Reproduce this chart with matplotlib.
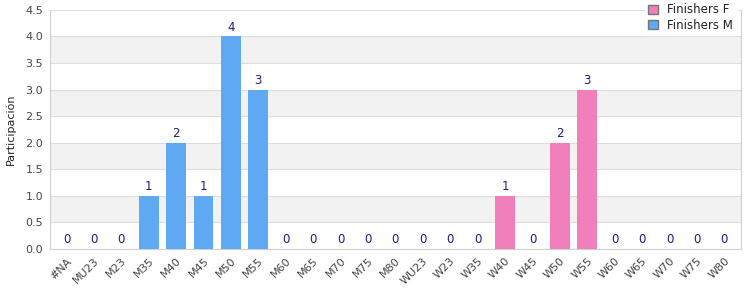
import matplotlib
matplotlib.use("Agg")
import matplotlib.pyplot as plt
from matplotlib.patches import Patch
import numpy as np

categories = ["#NA", "MU23", "M23", "M35", "M40", "M45", "M50", "M55", "M60", "M65",
              "M70", "M75", "M80", "WU23", "W23", "W35", "W40", "W45", "W50", "W55",
              "W60", "W65", "W70", "W75", "W80"]
finishers_f = [0, 0, 0, 0, 0, 0, 0, 0, 0, 0, 0, 0, 0, 0, 0, 0, 1, 0, 2, 3, 0, 0, 0, 0, 0]
finishers_m = [0, 0, 0, 1, 2, 1, 4, 3, 0, 0, 0, 0, 0, 0, 0, 0, 0, 0, 0, 0, 0, 0, 0, 0, 0]
y_ticks = [0.0, 0.5, 1.0, 1.5, 2.0, 2.5, 3.0, 3.5, 4.0, 4.5]

col_f = "#f17fb9"
col_m = "#5fa8f2"
txt = "#444444"

fig = plt.figure(figsize=(7.5, 3.0), dpi=100)
ax = fig.add_axes([0.0667, 0.17, 0.921, 0.797])

x = np.arange(len(categories))
f = np.array(finishers_f)
m = np.array(finishers_m)
ax.bar(x, m, width=0.72, color=col_m, zorder=3)
ax.bar(x, f, width=0.72, bottom=m, color=col_f, zorder=3)

tot = f + m
for xi, t in zip(x, tot):
    ax.text(xi, t + 0.05, str(int(t)), ha="center", va="bottom", fontsize=8.5,
            color="#1a1a8c", zorder=4)

ax.set_ylim(0, 4.5)
ax.set_xlim(-0.6, len(categories) - 0.4)
ax.set_yticks(y_ticks)
ax.set_yticklabels([f"{v:.1f}" for v in y_ticks], fontsize=8, color=txt)
ax.set_xticks(x)
ax.set_xticklabels(categories, rotation=45, ha="right", rotation_mode="anchor",
                   fontsize=8, color=txt)
ax.tick_params(length=0, pad=5)

# alternating bands
for i in range(len(y_ticks) - 1):
    if i % 2 == 1:
        ax.axhspan(y_ticks[i], y_ticks[i + 1], color="#f2f2f2", zorder=0, lw=0)
for v in y_ticks:
    ax.axhline(v, color="#dddddd", lw=0.8, zorder=1)

for s in ["top"]:
    ax.spines[s].set_visible(False)
for s in ["left", "bottom", "right"]:
    ax.spines[s].set_color("#d0d0d0")

ax.set_ylabel("Participación", fontsize=8, color="#222222", labelpad=7)

handles = [Patch(facecolor=col_f, edgecolor="#777777", label="Finishers F"),
           Patch(facecolor=col_m, edgecolor="#777777", label="Finishers M")]
leg = fig.legend(handles=handles, loc="upper right", bbox_to_anchor=(0.99, 1.02),
                 fontsize=8.5, frameon=True, handlelength=0.8, handleheight=0.8,
                 borderpad=0.3, labelspacing=0.2, handletextpad=0.8, fancybox=False)
leg.get_frame().set_edgecolor("white")
leg.get_frame().set_facecolor("white")
leg.get_frame().set_alpha(1)
for t in leg.get_texts():
    t.set_color("#222222")

fig.savefig("out.png", dpi=100)
